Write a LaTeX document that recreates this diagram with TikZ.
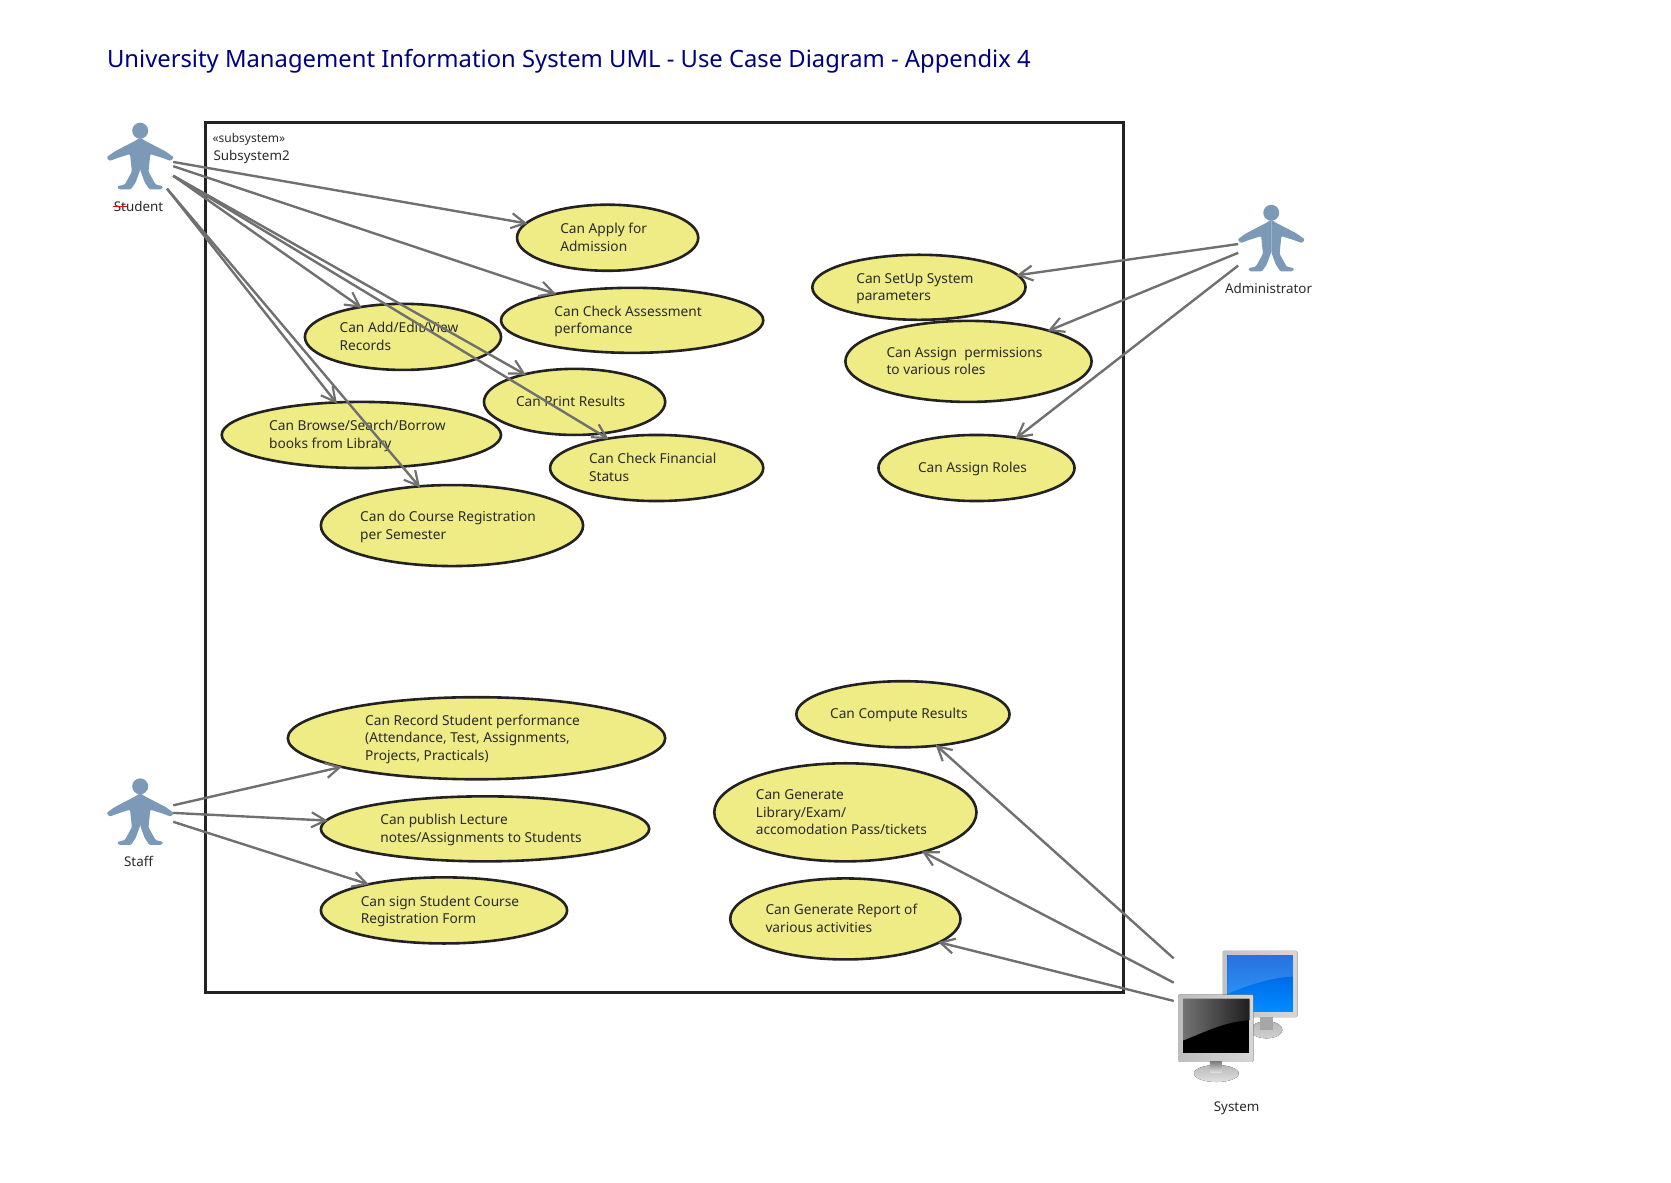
\documentclass[tikz,border=0pt]{standalone}
\usepackage{fontspec}
\setmainfont{Noto Sans}
\usetikzlibrary{shapes.geometric,arrows.meta}
\def\pxu{0.533pt}
\newcommand{\uctext}[1]{\raisebox{-0.6pt}[\height][\depth]{\begin{tabular}{@{}l@{}}#1\end{tabular}}\kern4pt}
\tikzset{>={Straight Barb[length=7pt,width=7.5pt,line width=1.1pt]}}
\tikzset{
  usecase/.style 2 args={ellipse,draw=framegray,line width=1.3pt,fill=casefill,inner sep=0pt,text=textgray,
    font=\fontsize{6.85}{8.8}\selectfont,minimum width=#1*\pxu,minimum height=#2*\pxu},
  assoc/.style={->,draw=linegray,line width=1.2pt,shorten >=-1.5pt},
  actorbox/.style 2 args={inner sep=0pt,outer sep=0pt,minimum width=#1*\pxu,minimum height=#2*\pxu},
  actorname/.style={text=textgray,inner sep=0pt,font=\fontsize{6.7}{8.8}\selectfont},
  actor/.pic={
    \fill[actorblue] (0,-24.4) circle (7.5);
    \foreach \s in {1,-1}
      \fill[actorblue,xscale=\s,rounded corners=0.6pt] (0,-18) -- (4.5,-15) -- (11.3,-11.5) -- (23.8,-5) -- (31.6,0.6) -- (28.8,4)
        -- (20,0.8) -- (9.5,-2.5) -- (7.8,14) -- (14.4,26) -- (21.6,27.8) -- (20,30.6) -- (8.6,30.6)
        -- (4.2,24) -- (0,12.5) -- cycle;
  }
}
\definecolor{framegray}{HTML}{222222}
\definecolor{textgray}{HTML}{2A2A2A}
\definecolor{linegray}{HTML}{707070}
\definecolor{casefill}{HTML}{EFEC85}
\definecolor{actorblue}{HTML}{7C9AB8}
\definecolor{titleblue}{HTML}{000080}
\begin{document}
\begin{tikzpicture}[x=\pxu,y=-\pxu]
\useasboundingbox (0,0) rectangle (1567.5,1108.8);
\node[anchor=west,inner sep=0pt,text=titleblue,font=\fontsize{11.9}{15}\selectfont] (title) at (100,57) {University Management Information System UML - Use Case Diagram - Appendix 4};
\node[draw=framegray,line width=1.3pt,inner sep=0pt,minimum width=861*\pxu,minimum height=816*\pxu] (subsystem) at (623.5,523) {};
\node[anchor=west,actorname,font=\fontsize{6}{7}\selectfont] (stereo) at (199,131) {«subsystem»};
\node[anchor=west,actorname] (subname) at (200,147) {Subsystem2};

\node[usecase={170}{62}] (apply) at (570,223) {\uctext{Can Apply for\\Admission}};
\node[usecase={246}{61}] (assess) at (593,300.5) {\uctext{Can Check Assessment\\perfomance}};
\node[usecase={184}{62}] (records) at (378,316) {\uctext{Can Add/Edit/View\\Records}};
\node[usecase={170}{62}] (print) at (539,377) {\uctext{Can Print Results}};
\node[usecase={262}{62}] (library) at (339,408) {\uctext{Can Browse/Search/Borrow\\books from Library}};
\node[usecase={200}{62}] (finance) at (616,439) {\uctext{Can Check Financial\\Status}};
\node[usecase={246}{76}] (course) at (424,493) {\uctext{Can do Course Registration\\per Semester}};
\node[usecase={200}{61}] (setup) at (862,269.5) {\uctext{Can SetUp System\\parameters}};
\node[usecase={231}{76}] (perm) at (908.5,339) {\uctext{Can Assign\ \ permissions\\to various roles}};
\node[usecase={184}{62}] (roles) at (916,439) {\uctext{Can Assign Roles}};
\node[usecase={200}{62}] (compute) at (847,670) {\uctext{Can Compute Results}};
\node[usecase={354}{77}] (record) at (447,692.5) {\uctext{Can Record Student performance\\(Attendance, Test, Assignments,\\Projects, Practicals)}};
\node[usecase={308}{61}] (publish) at (455,777.5) {\uctext{Can publish Lecture\\notes/Assignments to Students}};
\node[usecase={231}{62}] (sign) at (416.5,854) {\uctext{Can sign Student Course\\Registration Form}};
\node[usecase={246}{92}] (passes) at (793,762) {\uctext{Can Generate\\Library/Exam/\\accomodation Pass/tickets}};
\node[usecase={216}{76}] (report) at (793,862) {\uctext{Can Generate Report of\\various activities}};

\node[actorbox={62}{60}] (student) at (131.5,147) {};
\node[actorbox={62}{62}] (admin) at (1192.5,224) {};
\node[actorbox={62}{62}] (staff) at (131.5,762) {};
\node[actorbox={120}{126}] (system) at (1161,955) {};
\pic at (student) {actor};
\pic at (admin) {actor};
\pic at (staff) {actor};
\node[actorname] (studentname) at (130,194) {Student};
\node[actorname] (adminname) at (1190,271) {Administrator};
\node[actorname] (staffname) at (130,808) {Staff};
\node[actorname] (systemname) at (1160,1040) {System};
\draw[red,line width=0.5pt] (studentname.west) -- ++(13,0);

% back monitor
\fill[left color=black!24,right color=black!16,rounded corners=0.5pt] (1147,892) rectangle (1217,954);
\fill[top color=black!28,bottom color=black!18] (1188,966) ellipse (15 and 8);
\fill[black!35] (1182,954) rectangle (1194,966);
\fill[top color=blue!60!cyan!85!black,bottom color=cyan!55!blue] (1151.3,896) rectangle (1212.7,948.4);
\fill[white,opacity=0.16] (1151.3,896) -- (1212.7,896) -- (1212.7,916) .. controls (1190,917) and (1170,925) .. (1151.3,932) -- cycle;
% front monitor
\fill[left color=black!26,right color=black!16,rounded corners=0.5pt] (1105.4,933) rectangle (1175.7,996);
\fill[top color=black!28,bottom color=black!12] (1141,1007) ellipse (21 and 8);
\fill[top color=black!50,bottom color=black!12] (1135,996) rectangle (1146,1006);
\fill[black] (1110,937) rectangle (1172,988);
\fill[left color=black!55,right color=black!88] (1110,937) -- (1172,937) -- (1172,957) .. controls (1150,958) and (1130,968) .. (1110,976) -- cycle;

\draw[assoc] (student.-9.2) -- (apply.170.3);
\draw[assoc] (student.-16.9) -- (assess.161.5);
\draw[assoc] (student.-30.1) -- (records.145.5);
\draw[assoc] (student.-30.1) -- (print.151.1);
\draw[assoc] (student.-30.1) -- (finance.149);
\draw[assoc] (student.-50.2) -- (library.128.1);
\draw[assoc] (student.-50.2) -- (course.130.5);
\draw[assoc] (admin.189.5) -- (setup.7.8);
\draw[assoc] (admin.203.4) -- (perm.21.5);
\draw[assoc] (admin.219.8) -- (roles.37.9);
\draw[assoc] (staff.12.7) -- (record.192.5);
\draw[assoc] (staff.-1.8) -- (publish.177.1);
\draw[assoc] (staff.-16) -- (sign.161.9);
\draw[assoc] (system.137) -- (compute.-43.1);
\draw[assoc] (system.151.2) -- (passes.-27.5);
\draw[assoc] (system.165.1) -- (report.-14);
\end{tikzpicture}
\end{document}
